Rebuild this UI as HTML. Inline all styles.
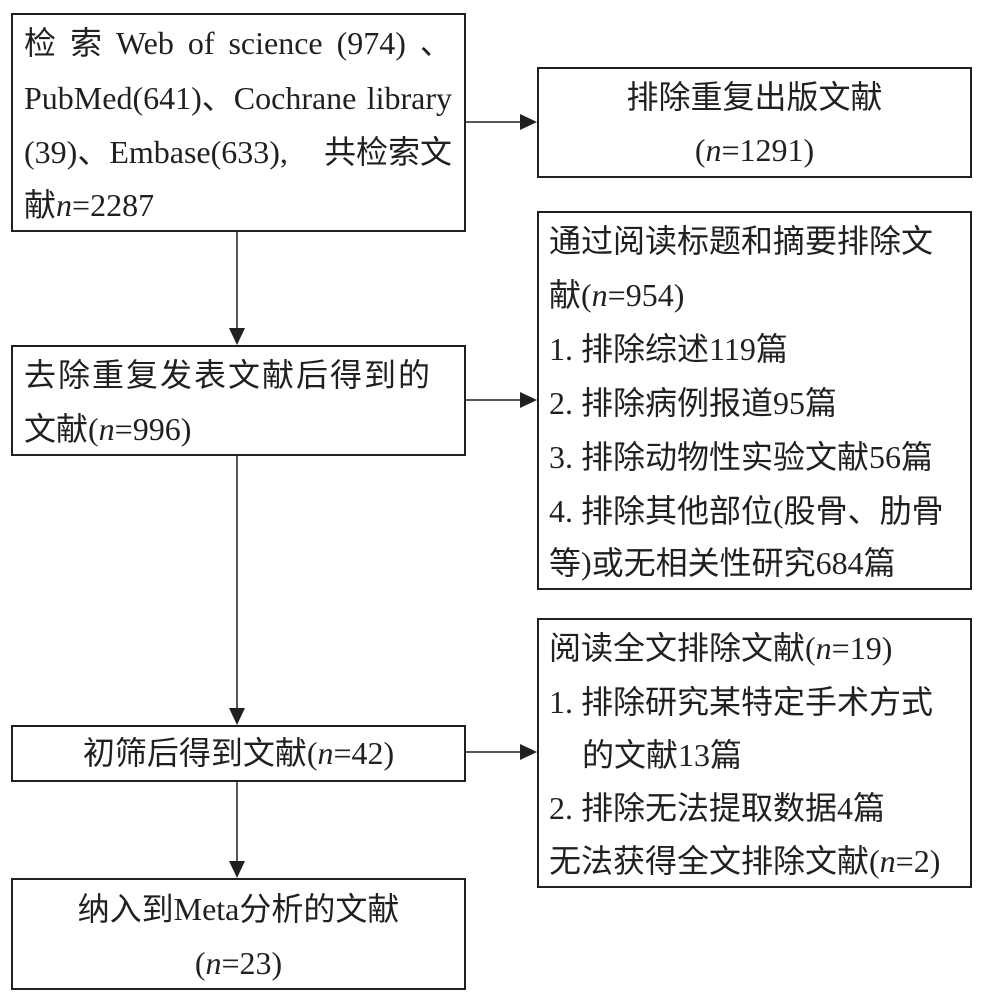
<!DOCTYPE html>
<html><head><meta charset="utf-8"><style>
html,body{margin:0;padding:0;background:#fff;}
body{width:985px;height:997px;position:relative;overflow:hidden;font-family:"Liberation Serif","Noto Sans CJK SC",serif;font-size:32px;color:#231f20;}
.b{position:absolute;border:2px solid #231f20;box-sizing:border-box;}
.t{position:absolute;white-space:nowrap;line-height:36px;}
.f{display:flex;justify-content:space-between;}
.c{text-align:center;}
i{font-style:italic;}
</style></head><body>
<div class="b" style="left:11px;top:13px;width:455px;height:219px"></div>
<div class="b" style="left:537px;top:67px;width:435px;height:111px"></div>
<div class="b" style="left:537px;top:211px;width:435px;height:379px"></div>
<div class="b" style="left:11px;top:345px;width:455px;height:111px"></div>
<div class="b" style="left:11px;top:725px;width:455px;height:57px"></div>
<div class="b" style="left:537px;top:618px;width:435px;height:270px"></div>
<div class="b" style="left:11px;top:878px;width:455px;height:112px"></div>

<div class="t f" style="left:24px;top:25px;width:428px"><span>检</span><span>索</span><span>Web</span><span>of</span><span>science</span><span>(974)</span><span>、</span></div>
<div class="t f" style="left:24px;top:80px;width:428px"><span>PubMed(641)、Cochrane</span><span>library</span></div>
<div class="t f" style="left:24px;top:134px;width:428px"><span>(39)、Embase(633),</span><span>共检索文</span></div>
<div class="t" style="left:24px;top:187px">献<i>n</i>=2287</div>

<div class="t c" style="left:537px;top:79px;width:435px">排除重复出版文献</div>
<div class="t c" style="left:537px;top:132px;width:435px">(<i>n</i>=1291)</div>

<div class="t f" style="left:549px;top:223px;width:410px"><span>通过阅读标题和摘要排除文</span></div>
<div class="t" style="left:549px;top:277px">献(<i>n</i>=954)</div>
<div class="t" style="left:549px;top:331px">1. 排除综述119篇</div>
<div class="t" style="left:549px;top:385px">2. 排除病例报道95篇</div>
<div class="t" style="left:549px;top:439px">3. 排除动物性实验文献56篇</div>
<div class="t" style="left:549px;top:493px">4. 排除其他部位(股骨、肋骨</div>
<div class="t" style="left:549px;top:545px">等)或无相关性研究684篇</div>

<div class="t" style="left:24px;top:357px;letter-spacing:2px">去除重复发表文献后得到的</div>
<div class="t" style="left:24px;top:411px">文献(<i>n</i>=996)</div>

<div class="t c" style="left:11px;top:735px;width:455px">初筛后得到文献(<i>n</i>=42)</div>

<div class="t" style="left:549px;top:630px">阅读全文排除文献(<i>n</i>=19)</div>
<div class="t" style="left:549px;top:684px">1. 排除研究某特定手术方式</div>
<div class="t" style="left:582px;top:737px">的文献13篇</div>
<div class="t" style="left:549px;top:790px">2. 排除无法提取数据4篇</div>
<div class="t" style="left:549px;top:843px">无法获得全文排除文献(<i>n</i>=2)</div>

<div class="t c" style="left:11px;top:891px;width:455px">纳入到Meta分析的文献</div>
<div class="t c" style="left:11px;top:945px;width:455px">(<i>n</i>=23)</div>

<svg width="985" height="997" style="position:absolute;left:0;top:0" xmlns="http://www.w3.org/2000/svg">
<g stroke="#231f20" stroke-width="1.5" fill="none">
<line x1="237" y1="232" x2="237" y2="330"/>
<line x1="237" y1="456" x2="237" y2="710"/>
<line x1="237" y1="782" x2="237" y2="863"/>
<line x1="466" y1="122" x2="522" y2="122"/>
<line x1="466" y1="400" x2="522" y2="400"/>
<line x1="466" y1="752" x2="522" y2="752"/>
</g>
<g fill="#231f20">
<polygon points="229,328 245,328 237,345"/>
<polygon points="229,708 245,708 237,725"/>
<polygon points="229,861 245,861 237,878"/>
<polygon points="520,114 520,130 537,122"/>
<polygon points="520,392 520,408 537,400"/>
<polygon points="520,744 520,760 537,752"/>
</g>
</svg>
</body></html>
